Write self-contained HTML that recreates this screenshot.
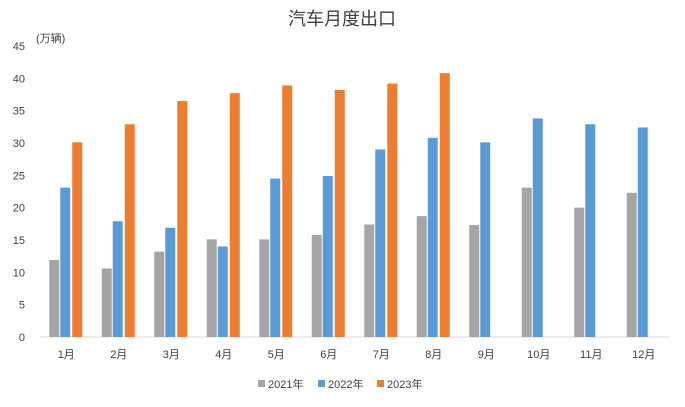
<!DOCTYPE html>
<html><head><meta charset="utf-8"><style>
body{margin:0;background:#fff;}
svg text{font-family:"Liberation Sans","Noto Sans CJK SC",sans-serif;fill:#404040;}
</style></head><body>
<svg id="chart" width="685" height="402">
<text x="342" y="25" text-anchor="middle" font-size="18">汽车月度出口</text>
<text x="36" y="42" font-size="11">(万辆)</text>
<g id="grid"></g><g id="bars"></g><g id="labels"></g>
<g>
<rect x="258" y="380" width="7" height="7" fill="#a5a5a5"/>
<text x="268" y="388" font-size="11">2021年</text>
<rect x="318" y="380" width="7" height="7" fill="#5b9bd5"/>
<text x="328" y="388" font-size="11">2022年</text>
<rect x="377" y="380" width="7" height="7" fill="#ed7d31"/>
<text x="387" y="388" font-size="11">2023年</text>
</g>
</svg>
<script>
const categories=["1月","2月","3月","4月","5月","6月","7月","8月","9月","10月","11月","12月"];
const s2021=[11.9,10.6,13.2,15.1,15.1,15.8,17.4,18.7,17.3,23.1,20.0,22.3];
const s2022=[23.1,17.9,16.9,14.0,24.5,24.9,29.0,30.8,30.1,33.8,32.9,32.4];
const s2023=[30.1,32.9,36.5,37.7,38.9,38.2,39.2,40.8];
const yTicks=[0,5,10,15,20,25,30,35,40,45];
const NS="http://www.w3.org/2000/svg";
const x0=40,x1=670,y0=337,y1=46,yMax=45;
const step=(x1-x0)/categories.length;
const y=v=>y0-(v/yMax)*(y0-y1);
const xc=i=>x0+step*(i+0.5);
function mk(t,a,p){const e=document.createElementNS(NS,t);for(const k in a)e.setAttribute(k,a[k]);p.appendChild(e);return e;}
const grid=document.getElementById('grid'),bars=document.getElementById('bars'),labels=document.getElementById('labels');
yTicks.forEach(t=>{
 const tx=mk('text',{x:25,y:y(t)+4,'font-size':11,'text-anchor':'end'},labels);
 tx.textContent=t;
 
 
});
const ax=mk('line',{x1:x0,x2:x1,y1:y0,y2:y0,stroke:'#d9d9d9'},grid);


const series=[[s2021,'#a5a5a5',-17,'2021'],[s2022,'#5b9bd5',-6,'2022'],[s2023,'#ed7d31',6,'2023']];
series.forEach(([arr,col,off,nm])=>{
 arr.forEach((v,i)=>{
  const r=mk('rect',{x:xc(i)+off,y:y(v),width:10,height:y0-y(v),fill:col},bars);
  
  
 });
});
categories.forEach((c,i)=>{
 const tx=mk('text',{x:xc(i),y:358,'font-size':11,'text-anchor':'middle'},labels);
 tx.textContent=c;
 
 
});
</script>
</body></html>
